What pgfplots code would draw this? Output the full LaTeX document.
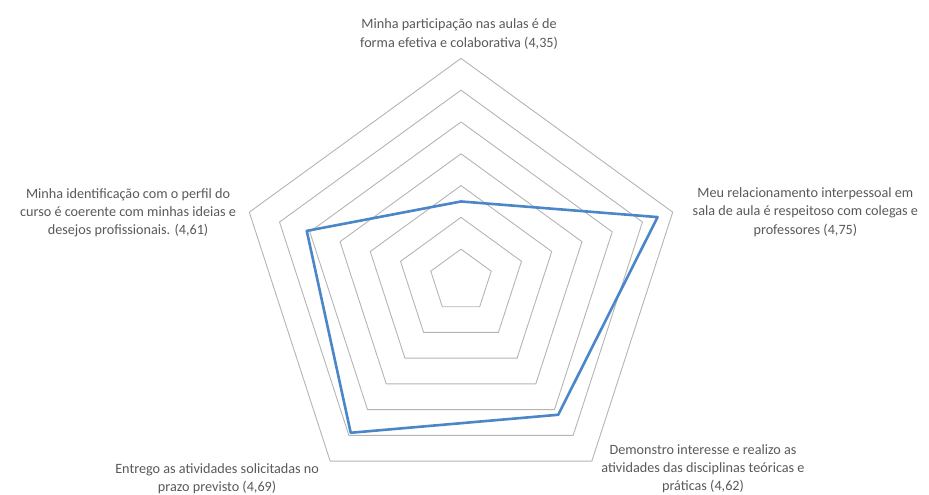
\documentclass[border=0pt]{standalone}
\usepackage{pgfplots}
\pgfplotsset{compat=1.18}
\usepackage{pgfplotstable}
\usepackage{fontspec}
\setmainfont{Carlito}

\definecolor{serie}{HTML}{4A86C8}
\definecolor{grade}{HTML}{B4B4B4}
\definecolor{rotulo}{HTML}{595959}

% medias por item (angulo do eixo, valor)
\pgfplotstableread{
ang val
90 4.35
18 4.75
-54 4.62
-126 4.69
162 4.61
90 4.35
}\medias

\begin{document}
\begin{tikzpicture}
\useasboundingbox (0,0) rectangle (929pt,495pt);
\begin{axis}[
    at={(0,0)}, anchor=south west,
    width=929pt, height=495pt,
    scale only axis,
    xmin=-1.4497, xmax=1.4717,
    ymin=-0.6730, ymax=0.8836,
    hide axis,
    clip=false,
  ]
  % aneis de 4,1 a 4,8 (passo 0,1)
  \pgfplotsinvokeforeach{1,...,7}{
    \addplot[grade, line width=0.9pt, no marks]
      table[x expr={cos(\thisrow{ang})*#1*0.1}, y expr={sin(\thisrow{ang})*#1*0.1}] {\medias};
  }
  \addplot[serie, line width=2.6pt, line join=round, no marks]
    table[x expr={cos(\thisrow{ang})*(\thisrow{val}-4.1)},
          y expr={sin(\thisrow{ang})*(\thisrow{val}-4.1)}] {\medias};

  \begin{scope}[every node/.style={align=center, text=rotulo, inner sep=0pt, font=\fontsize{14.2}{18.3}\selectfont}]
    \node at (axis cs:-0.006,0.776) {Minha participação nas aulas é de\\forma efetiva e colaborativa (4,35)};
    \node at (axis cs:1.083,0.217) {Meu relacionamento interpessoal em\\sala de aula é respeitoso com colegas e\\professores (4,75)};
    \node at (axis cs:0.761,-0.590) {Demonstro interesse e realizo as\\atividades das disciplinas teóricas e\\práticas (4,62)};
    \node at (axis cs:-0.767,-0.622) {Entrego as atividades solicitadas no\\prazo previsto (4,69)};
    \node at (axis cs:-1.047,0.215) {Minha identificação com o perfil do\\curso é coerente com minhas ideias e\\desejos profissionais. (4,61)};
  \end{scope}
\end{axis}
\end{tikzpicture}
\end{document}
